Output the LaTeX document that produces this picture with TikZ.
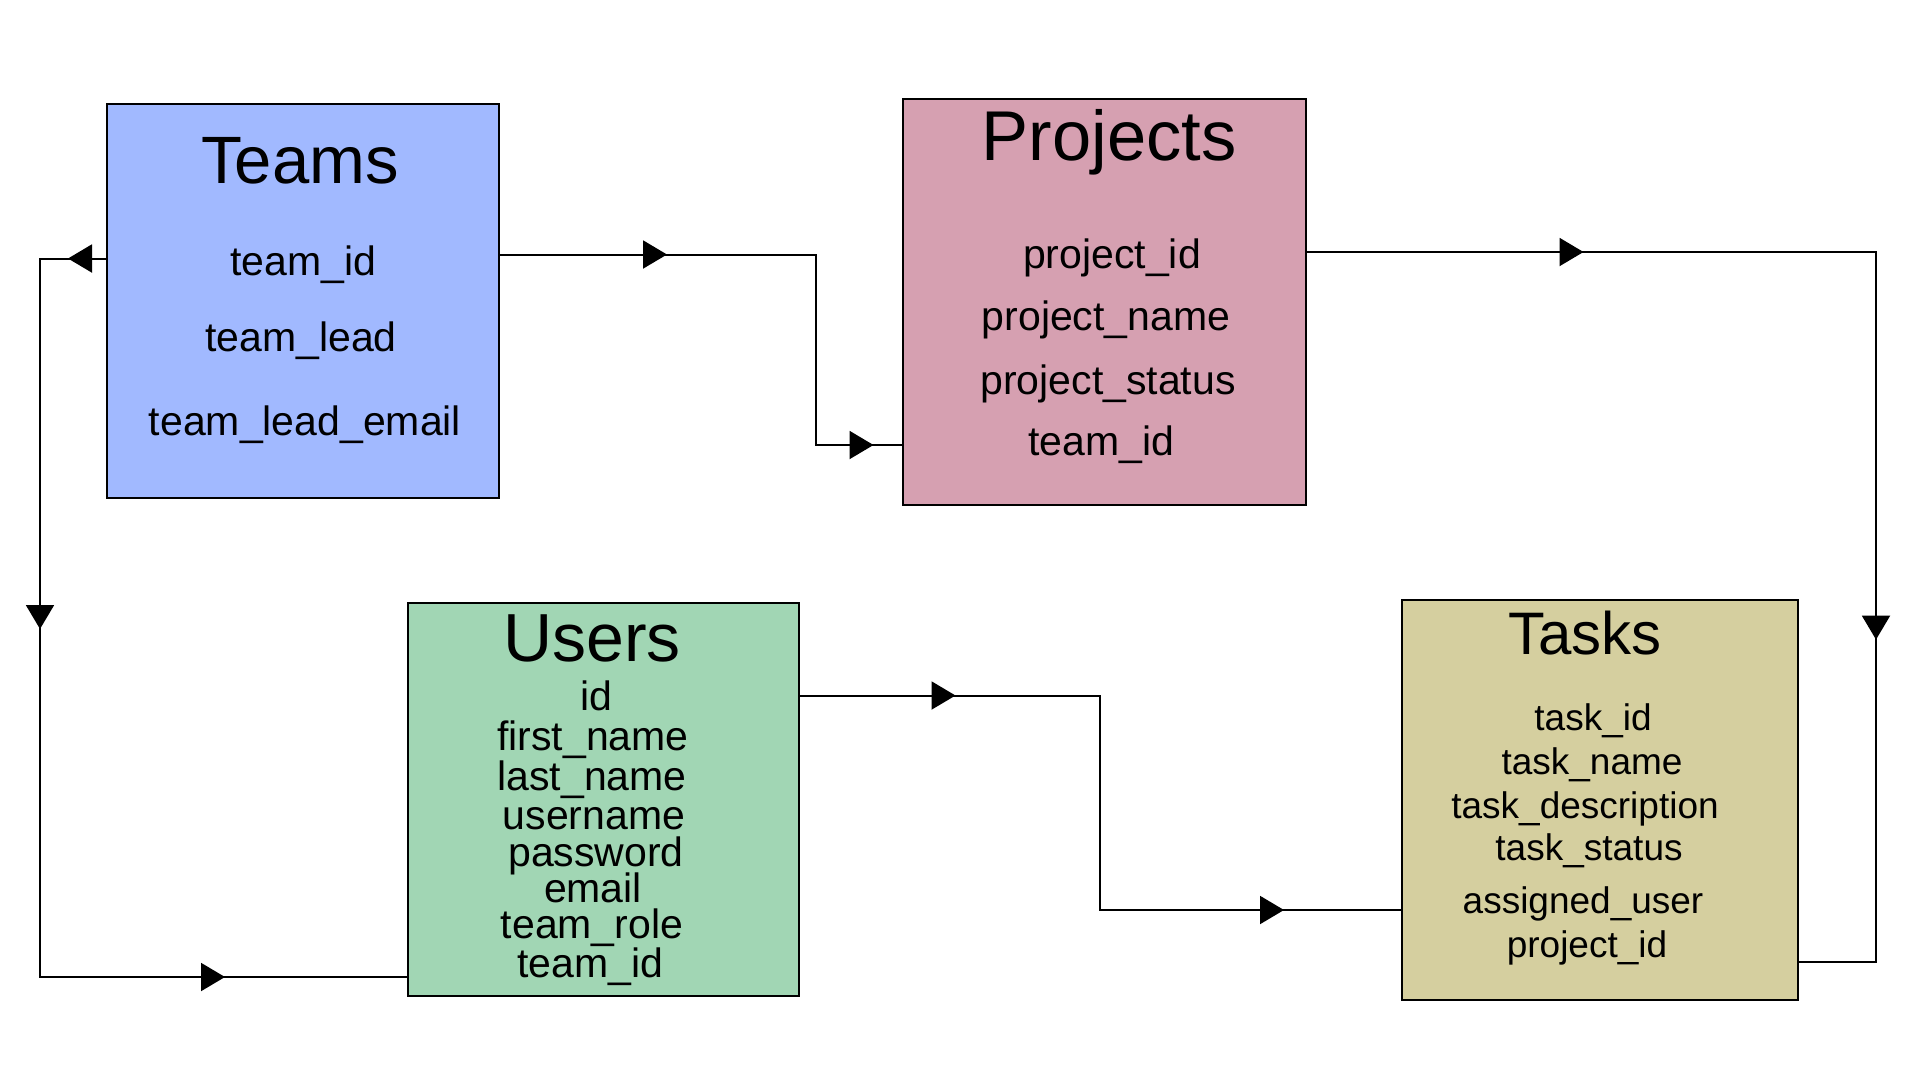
\documentclass[tikz,border=0pt]{standalone}
\usepackage{fontspec}
\setmainfont{Liberation Sans}
\usetikzlibrary{arrows.meta,decorations.markings}
\definecolor{teamsfill}{RGB}{161,185,255}
\definecolor{projfill}{RGB}{214,160,177}
\definecolor{usersfill}{RGB}{161,214,180}
\definecolor{tasksfill}{RGB}{213,207,159}
\newcommand\conntip{\arrow{Triangle[length=24pt,width=28pt]}}
\begin{document}
\begin{tikzpicture}[x=1pt,y=-1pt,
  tablebox/.style={draw=black,line width=2pt,inner sep=0pt,anchor=north west},
  titletxt/.style={anchor=base,inner sep=0pt,font=\fontsize{#1}{#1}\selectfont},
  fieldtxt/.style={anchor=base,inner sep=0pt,font=\fontsize{41}{48}\selectfont},
  taskfield/.style={anchor=base,inner sep=0pt,font=\fontsize{37}{44}\selectfont},
  conn/.style={draw=black,line width=2pt,line join=miter,postaction={decorate}},
  twotips/.style 2 args={decoration={markings,
     mark=at position #1 with {\conntip},
     mark=at position #2 with {\conntip}}},
  threetips/.style n args={3}{decoration={markings,
     mark=at position #1 with {\conntip},
     mark=at position #2 with {\conntip},
     mark=at position #3 with {\conntip}}}]
\useasboundingbox (0,0) rectangle (1920,1080);
\fill[white] (0,0) rectangle (1920,1080);

% tables
\node[tablebox,fill=teamsfill,minimum width=392pt,minimum height=394pt] (teams) at (106,103) {};
\node[tablebox,fill=projfill,minimum width=403pt,minimum height=406pt] (projects) at (902,97.5) {};
\node[tablebox,fill=usersfill,minimum width=391pt,minimum height=393.5pt] (users) at (407,601.5) {};
\node[tablebox,fill=tasksfill,minimum width=396pt,minimum height=400pt] (tasks) at (1401,599) {};

% Teams text
\node[titletxt=67] (teamsT) at (300,183) {Teams};
\node[fieldtxt] (teamsF1) at (303.5,275) {team\_id};
\node[fieldtxt] (teamsF2) at (301,351.5) {team\_lead};
\node[fieldtxt] (teamsF3) at (305,435) {team\_lead\_email};

% Projects text
\node[titletxt=70.5] (projT) at (1109,160.5) {Projects};
\node[fieldtxt] (projF1) at (1112,268.5) {project\_id};
\node[fieldtxt] (projF2) at (1106,330) {project\_name};
\node[fieldtxt] (projF3) at (1108,394) {project\_status};
\node[fieldtxt] (projF4) at (1101,455) {team\_id};

% Users text
\node[titletxt=68] (usersT) at (592,661) {Users};
\node[fieldtxt] (usersF1) at (596,710.5) {id};
\node[fieldtxt] (usersF2) at (593,750) {first\_name};
\node[fieldtxt] (usersF3) at (592,790.5) {last\_name};
\node[fieldtxt] (usersF4) at (594,829.5) {username};
\node[fieldtxt] (usersF5) at (596,866.5) {password};
\node[fieldtxt] (usersF6) at (593,902.5) {email};
\node[fieldtxt] (usersF7) at (592,938.5) {team\_role};
\node[fieldtxt] (usersF8) at (590,977.5) {team\_id};

% Tasks text
\node[titletxt=60] (tasksT) at (1585,654) {Tasks};
\node[taskfield] (tasksF1) at (1593,730) {task\_id};
\node[taskfield] (tasksF2) at (1592,774.5) {task\_name};
\node[taskfield] (tasksF3) at (1585,818) {task\_description};
\node[taskfield] (tasksF4) at (1589,860.5) {task\_status};
\node[taskfield] (tasksF5) at (1583,913) {assigned\_user};
\node[taskfield] (tasksF6) at (1587,957) {project\_id};

% corner points
\coordinate (k1) at (816,254.5);
\coordinate (k2) at (816,445);
\coordinate (k3) at (40,258.5);
\coordinate (k4) at (40,977);
\coordinate (k5) at (1876,252);
\coordinate (k6) at (1876,962);
\coordinate (k7) at (1100,695.5);
\coordinate (k8) at (1100,910);

% connectors
\path[conn,twotips={167pt}{564pt}]
  (teams.east |- k1) -- (k1) -- (k2) -- (k2 -| projects.west);
\path[conn,threetips={38pt}{436.5pt}{969.5pt}]
  (teams.west |- k3) -- (k3) -- (k4) -- (k4 -| users.west);
\path[conn,twotips={276.5pt}{956.6pt}]
  (projects.east |- k5) -- (k5) -- (k6) -- (k6 -| tasks.east);
\path[conn,twotips={155.5pt}{698.5pt}]
  (users.east |- k7) -- (k7) -- (k8) -- (k8 -| tasks.west);
\end{tikzpicture}
\end{document}
